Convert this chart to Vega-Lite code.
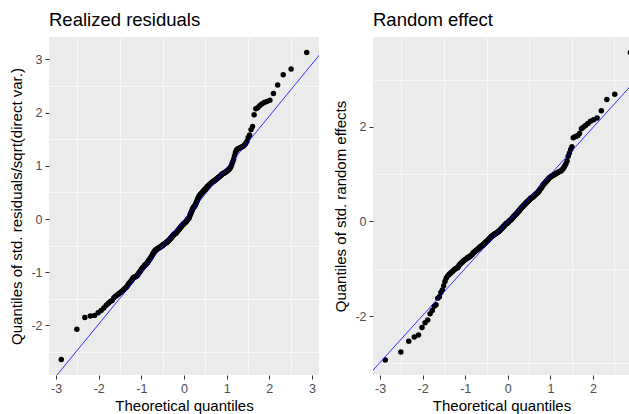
{
  "$schema": "https://vega.github.io/schema/vega-lite/v6.json",
  "padding": {"left": 9, "top": 10, "right": 0, "bottom": 0},
  "background": "white",
  "spacing": 14,
  "config": {
    "font": "Liberation Sans",
    "view": {"stroke": null, "fill": "#EBEBEB"},
    "axis": {"domain": false, "tickColor": "#333333", "tickSize": 4, "tickWidth": 1, "labelColor": "#4D4D4D", "labelFontSize": 12.5, "labelPadding": 3, "titleFontSize": 15, "titleFontWeight": "normal", "titleColor": "black", "gridColor": "white", "gridWidth": 1.2, "labelFont": "Liberation Sans", "titleFont": "Liberation Sans"},
    "title": {"anchor": "start", "frame": "group", "fontSize": 18.5, "fontWeight": "normal", "color": "black", "offset": 8, "font": "Liberation Sans"}
  },
  "datasets": {
    "res": [
{"x":-2.878,"y":-2.64},{"x":-2.512,"y":-2.07},{"x":-2.326,"y":-1.85},{"x":-2.197,"y":-1.82},{"x":-2.097,"y":-1.81},{"x":-2.014,"y":-1.76},{"x":-1.943,"y":-1.72},{"x":-1.881,"y":-1.67},{"x":-1.825,"y":-1.62},{"x":-1.774,"y":-1.58},
{"x":-1.728,"y":-1.55},{"x":-1.685,"y":-1.53},{"x":-1.645,"y":-1.48},{"x":-1.607,"y":-1.45},{"x":-1.572,"y":-1.43},{"x":-1.538,"y":-1.41},{"x":-1.506,"y":-1.39},{"x":-1.476,"y":-1.37},{"x":-1.447,"y":-1.35},{"x":-1.419,"y":-1.33},
{"x":-1.392,"y":-1.31},{"x":-1.366,"y":-1.29},{"x":-1.341,"y":-1.27},{"x":-1.317,"y":-1.24},{"x":-1.293,"y":-1.21},{"x":-1.270,"y":-1.19},{"x":-1.248,"y":-1.17},{"x":-1.227,"y":-1.15},{"x":-1.206,"y":-1.12},{"x":-1.185,"y":-1.10},
{"x":-1.165,"y":-1.09},{"x":-1.146,"y":-1.09},{"x":-1.126,"y":-1.08},{"x":-1.108,"y":-1.07},{"x":-1.089,"y":-1.05},{"x":-1.071,"y":-1.03},{"x":-1.054,"y":-1.01},{"x":-1.036,"y":-0.99},{"x":-1.019,"y":-0.97},{"x":-1.003,"y":-0.95},
{"x":-0.986,"y":-0.93},{"x":-0.970,"y":-0.92},{"x":-0.954,"y":-0.90},{"x":-0.938,"y":-0.89},{"x":-0.923,"y":-0.87},{"x":-0.908,"y":-0.86},{"x":-0.893,"y":-0.85},{"x":-0.878,"y":-0.84},{"x":-0.863,"y":-0.82},{"x":-0.849,"y":-0.81},
{"x":-0.834,"y":-0.79},{"x":-0.820,"y":-0.77},{"x":-0.806,"y":-0.76},{"x":-0.793,"y":-0.74},{"x":-0.779,"y":-0.72},{"x":-0.765,"y":-0.71},{"x":-0.752,"y":-0.69},{"x":-0.739,"y":-0.67},{"x":-0.726,"y":-0.65},{"x":-0.713,"y":-0.63},
{"x":-0.700,"y":-0.62},{"x":-0.687,"y":-0.60},{"x":-0.674,"y":-0.59},{"x":-0.662,"y":-0.58},{"x":-0.650,"y":-0.57},{"x":-0.637,"y":-0.57},{"x":-0.625,"y":-0.56},{"x":-0.613,"y":-0.56},{"x":-0.601,"y":-0.55},{"x":-0.589,"y":-0.54},
{"x":-0.577,"y":-0.54},{"x":-0.565,"y":-0.53},{"x":-0.553,"y":-0.52},{"x":-0.542,"y":-0.52},{"x":-0.530,"y":-0.51},{"x":-0.519,"y":-0.50},{"x":-0.507,"y":-0.50},{"x":-0.496,"y":-0.49},{"x":-0.485,"y":-0.48},{"x":-0.473,"y":-0.48},
{"x":-0.462,"y":-0.47},{"x":-0.451,"y":-0.46},{"x":-0.440,"y":-0.46},{"x":-0.429,"y":-0.45},{"x":-0.418,"y":-0.44},{"x":-0.407,"y":-0.44},{"x":-0.396,"y":-0.43},{"x":-0.385,"y":-0.42},{"x":-0.375,"y":-0.41},{"x":-0.364,"y":-0.41},
{"x":-0.353,"y":-0.40},{"x":-0.342,"y":-0.39},{"x":-0.332,"y":-0.38},{"x":-0.321,"y":-0.37},{"x":-0.311,"y":-0.36},{"x":-0.300,"y":-0.35},{"x":-0.290,"y":-0.34},{"x":-0.279,"y":-0.33},{"x":-0.269,"y":-0.32},{"x":-0.259,"y":-0.31},
{"x":-0.248,"y":-0.30},{"x":-0.238,"y":-0.29},{"x":-0.228,"y":-0.28},{"x":-0.217,"y":-0.28},{"x":-0.207,"y":-0.27},{"x":-0.197,"y":-0.27},{"x":-0.187,"y":-0.26},{"x":-0.176,"y":-0.25},{"x":-0.166,"y":-0.24},{"x":-0.156,"y":-0.23},
{"x":-0.146,"y":-0.22},{"x":-0.136,"y":-0.21},{"x":-0.126,"y":-0.20},{"x":-0.116,"y":-0.19},{"x":-0.106,"y":-0.18},{"x":-0.095,"y":-0.17},{"x":-0.085,"y":-0.16},{"x":-0.075,"y":-0.15},{"x":-0.065,"y":-0.14},{"x":-0.055,"y":-0.13},
{"x":-0.045,"y":-0.12},{"x":-0.035,"y":-0.11},{"x":-0.025,"y":-0.10},{"x":-0.015,"y":-0.10},{"x":-0.005,"y":-0.09},
{"x":0.005,"y":-0.08},{"x":0.015,"y":-0.07},{"x":0.025,"y":-0.07},{"x":0.035,"y":-0.06},{"x":0.045,"y":-0.05},{"x":0.055,"y":-0.04},{"x":0.065,"y":-0.03},{"x":0.075,"y":-0.02},{"x":0.085,"y":-0.01},{"x":0.095,"y":0.00},
{"x":0.106,"y":0.01},{"x":0.116,"y":0.02},{"x":0.126,"y":0.04},{"x":0.136,"y":0.06},{"x":0.146,"y":0.08},{"x":0.156,"y":0.10},{"x":0.166,"y":0.12},{"x":0.176,"y":0.14},{"x":0.187,"y":0.16},{"x":0.197,"y":0.18},
{"x":0.207,"y":0.20},{"x":0.217,"y":0.21},{"x":0.228,"y":0.22},{"x":0.238,"y":0.23},{"x":0.248,"y":0.24},{"x":0.259,"y":0.26},{"x":0.269,"y":0.27},{"x":0.279,"y":0.29},{"x":0.290,"y":0.31},{"x":0.300,"y":0.33},
{"x":0.311,"y":0.35},{"x":0.321,"y":0.37},{"x":0.332,"y":0.39},{"x":0.342,"y":0.41},{"x":0.353,"y":0.43},{"x":0.364,"y":0.44},{"x":0.375,"y":0.45},{"x":0.385,"y":0.46},{"x":0.396,"y":0.47},{"x":0.407,"y":0.48},
{"x":0.418,"y":0.49},{"x":0.429,"y":0.50},{"x":0.440,"y":0.51},{"x":0.451,"y":0.52},{"x":0.462,"y":0.53},{"x":0.473,"y":0.54},{"x":0.485,"y":0.55},{"x":0.496,"y":0.56},{"x":0.507,"y":0.57},{"x":0.519,"y":0.58},
{"x":0.530,"y":0.59},{"x":0.542,"y":0.60},{"x":0.553,"y":0.61},{"x":0.565,"y":0.62},{"x":0.577,"y":0.63},{"x":0.589,"y":0.64},{"x":0.601,"y":0.65},{"x":0.613,"y":0.66},{"x":0.625,"y":0.67},{"x":0.637,"y":0.67},
{"x":0.650,"y":0.68},{"x":0.662,"y":0.69},{"x":0.674,"y":0.70},{"x":0.687,"y":0.71},{"x":0.700,"y":0.71},{"x":0.713,"y":0.72},{"x":0.726,"y":0.73},{"x":0.739,"y":0.74},{"x":0.752,"y":0.75},{"x":0.765,"y":0.75},
{"x":0.779,"y":0.76},{"x":0.793,"y":0.77},{"x":0.806,"y":0.78},{"x":0.820,"y":0.79},{"x":0.834,"y":0.80},{"x":0.849,"y":0.81},{"x":0.863,"y":0.82},{"x":0.878,"y":0.83},{"x":0.893,"y":0.84},{"x":0.908,"y":0.85},
{"x":0.923,"y":0.86},{"x":0.938,"y":0.86},{"x":0.954,"y":0.87},{"x":0.970,"y":0.88},{"x":0.986,"y":0.89},{"x":1.003,"y":0.90},{"x":1.019,"y":0.91},{"x":1.036,"y":0.92},{"x":1.054,"y":0.93},{"x":1.071,"y":0.95},
{"x":1.089,"y":0.97},{"x":1.108,"y":1.00},{"x":1.126,"y":1.04},{"x":1.146,"y":1.08},{"x":1.165,"y":1.13},{"x":1.185,"y":1.19},{"x":1.206,"y":1.25},{"x":1.227,"y":1.29},{"x":1.248,"y":1.31},{"x":1.270,"y":1.32},
{"x":1.293,"y":1.33},{"x":1.317,"y":1.34},{"x":1.341,"y":1.35},{"x":1.366,"y":1.36},{"x":1.392,"y":1.37},{"x":1.419,"y":1.39},{"x":1.447,"y":1.42},{"x":1.476,"y":1.46},{"x":1.506,"y":1.53},{"x":1.538,"y":1.58},
{"x":1.572,"y":1.68},{"x":1.607,"y":1.74},{"x":1.645,"y":1.96},{"x":1.685,"y":2.07},{"x":1.728,"y":2.09},{"x":1.774,"y":2.13},{"x":1.825,"y":2.16},{"x":1.881,"y":2.19},{"x":1.943,"y":2.21},{"x":2.014,"y":2.23},
{"x":2.097,"y":2.36},{"x":2.197,"y":2.52},{"x":2.326,"y":2.71},{"x":2.512,"y":2.82},{"x":2.878,"y":3.13}
    ],
    "ran": [
{"x":-2.878,"y":-2.93},{"x":-2.512,"y":-2.76},{"x":-2.326,"y":-2.53},{"x":-2.197,"y":-2.44},{"x":-2.097,"y":-2.40},{"x":-2.014,"y":-2.24},{"x":-1.943,"y":-2.14},{"x":-1.881,"y":-2.08},{"x":-1.825,"y":-1.95},{"x":-1.774,"y":-1.88},
{"x":-1.728,"y":-1.79},{"x":-1.685,"y":-1.76},{"x":-1.645,"y":-1.62},{"x":-1.607,"y":-1.59},{"x":-1.572,"y":-1.50},{"x":-1.538,"y":-1.45},{"x":-1.506,"y":-1.36},{"x":-1.476,"y":-1.27},{"x":-1.447,"y":-1.20},{"x":-1.419,"y":-1.16},
{"x":-1.392,"y":-1.13},{"x":-1.366,"y":-1.11},{"x":-1.341,"y":-1.09},{"x":-1.317,"y":-1.07},{"x":-1.293,"y":-1.05},{"x":-1.270,"y":-1.03},{"x":-1.248,"y":-1.01},{"x":-1.227,"y":-1.00},{"x":-1.206,"y":-0.99},{"x":-1.185,"y":-0.98},
{"x":-1.165,"y":-0.96},{"x":-1.146,"y":-0.93},{"x":-1.126,"y":-0.91},{"x":-1.108,"y":-0.89},{"x":-1.089,"y":-0.87},{"x":-1.071,"y":-0.86},{"x":-1.054,"y":-0.84},{"x":-1.036,"y":-0.83},{"x":-1.019,"y":-0.82},{"x":-1.003,"y":-0.81},
{"x":-0.986,"y":-0.80},{"x":-0.970,"y":-0.79},{"x":-0.954,"y":-0.77},{"x":-0.938,"y":-0.76},{"x":-0.923,"y":-0.76},{"x":-0.908,"y":-0.75},{"x":-0.893,"y":-0.74},{"x":-0.878,"y":-0.73},{"x":-0.863,"y":-0.72},{"x":-0.849,"y":-0.71},
{"x":-0.834,"y":-0.69},{"x":-0.820,"y":-0.67},{"x":-0.806,"y":-0.66},{"x":-0.793,"y":-0.65},{"x":-0.779,"y":-0.64},{"x":-0.765,"y":-0.63},{"x":-0.752,"y":-0.62},{"x":-0.739,"y":-0.61},{"x":-0.726,"y":-0.60},{"x":-0.713,"y":-0.59},
{"x":-0.700,"y":-0.58},{"x":-0.687,"y":-0.57},{"x":-0.674,"y":-0.56},{"x":-0.662,"y":-0.55},{"x":-0.650,"y":-0.54},{"x":-0.637,"y":-0.53},{"x":-0.625,"y":-0.52},{"x":-0.613,"y":-0.52},{"x":-0.601,"y":-0.51},{"x":-0.589,"y":-0.50},
{"x":-0.577,"y":-0.49},{"x":-0.565,"y":-0.48},{"x":-0.553,"y":-0.47},{"x":-0.542,"y":-0.46},{"x":-0.530,"y":-0.45},{"x":-0.519,"y":-0.44},{"x":-0.507,"y":-0.43},{"x":-0.496,"y":-0.42},{"x":-0.485,"y":-0.41},{"x":-0.473,"y":-0.40},
{"x":-0.462,"y":-0.39},{"x":-0.451,"y":-0.38},{"x":-0.440,"y":-0.37},{"x":-0.429,"y":-0.36},{"x":-0.418,"y":-0.35},{"x":-0.407,"y":-0.34},{"x":-0.396,"y":-0.33},{"x":-0.385,"y":-0.32},{"x":-0.375,"y":-0.31},{"x":-0.364,"y":-0.30},
{"x":-0.353,"y":-0.30},{"x":-0.342,"y":-0.29},{"x":-0.332,"y":-0.28},{"x":-0.321,"y":-0.28},{"x":-0.311,"y":-0.27},{"x":-0.300,"y":-0.26},{"x":-0.290,"y":-0.26},{"x":-0.279,"y":-0.25},{"x":-0.269,"y":-0.25},{"x":-0.259,"y":-0.24},
{"x":-0.248,"y":-0.23},{"x":-0.238,"y":-0.23},{"x":-0.228,"y":-0.22},{"x":-0.217,"y":-0.21},{"x":-0.207,"y":-0.20},{"x":-0.197,"y":-0.20},{"x":-0.187,"y":-0.19},{"x":-0.176,"y":-0.18},{"x":-0.166,"y":-0.17},{"x":-0.156,"y":-0.16},
{"x":-0.146,"y":-0.15},{"x":-0.136,"y":-0.14},{"x":-0.126,"y":-0.13},{"x":-0.116,"y":-0.12},{"x":-0.106,"y":-0.11},{"x":-0.095,"y":-0.10},{"x":-0.085,"y":-0.09},{"x":-0.075,"y":-0.08},{"x":-0.065,"y":-0.07},{"x":-0.055,"y":-0.06},
{"x":-0.045,"y":-0.05},{"x":-0.035,"y":-0.04},{"x":-0.025,"y":-0.04},{"x":-0.015,"y":-0.03},{"x":-0.005,"y":-0.03},
{"x":0.005,"y":-0.02},{"x":0.015,"y":-0.01},{"x":0.025,"y":0.00},{"x":0.035,"y":0.01},{"x":0.045,"y":0.02},{"x":0.055,"y":0.02},{"x":0.065,"y":0.03},{"x":0.075,"y":0.04},{"x":0.085,"y":0.05},{"x":0.095,"y":0.06},
{"x":0.106,"y":0.07},{"x":0.116,"y":0.08},{"x":0.126,"y":0.09},{"x":0.136,"y":0.10},{"x":0.146,"y":0.11},{"x":0.156,"y":0.12},{"x":0.166,"y":0.13},{"x":0.176,"y":0.14},{"x":0.187,"y":0.15},{"x":0.197,"y":0.16},
{"x":0.207,"y":0.17},{"x":0.217,"y":0.18},{"x":0.228,"y":0.19},{"x":0.238,"y":0.20},{"x":0.248,"y":0.21},{"x":0.259,"y":0.22},{"x":0.269,"y":0.23},{"x":0.279,"y":0.24},{"x":0.290,"y":0.26},{"x":0.300,"y":0.27},
{"x":0.311,"y":0.28},{"x":0.321,"y":0.29},{"x":0.332,"y":0.30},{"x":0.342,"y":0.31},{"x":0.353,"y":0.32},{"x":0.364,"y":0.33},{"x":0.375,"y":0.34},{"x":0.385,"y":0.35},{"x":0.396,"y":0.36},{"x":0.407,"y":0.37},
{"x":0.418,"y":0.38},{"x":0.429,"y":0.39},{"x":0.440,"y":0.40},{"x":0.451,"y":0.41},{"x":0.462,"y":0.42},{"x":0.473,"y":0.43},{"x":0.485,"y":0.44},{"x":0.496,"y":0.45},{"x":0.507,"y":0.46},{"x":0.519,"y":0.47},
{"x":0.530,"y":0.48},{"x":0.542,"y":0.49},{"x":0.553,"y":0.50},{"x":0.565,"y":0.50},{"x":0.577,"y":0.51},{"x":0.589,"y":0.52},{"x":0.601,"y":0.53},{"x":0.613,"y":0.54},{"x":0.625,"y":0.55},{"x":0.637,"y":0.56},
{"x":0.650,"y":0.57},{"x":0.662,"y":0.58},{"x":0.674,"y":0.59},{"x":0.687,"y":0.60},{"x":0.700,"y":0.61},{"x":0.713,"y":0.62},{"x":0.726,"y":0.64},{"x":0.739,"y":0.65},{"x":0.752,"y":0.67},{"x":0.765,"y":0.69},
{"x":0.779,"y":0.70},{"x":0.793,"y":0.72},{"x":0.806,"y":0.74},{"x":0.820,"y":0.76},{"x":0.834,"y":0.78},{"x":0.849,"y":0.79},{"x":0.863,"y":0.81},{"x":0.878,"y":0.82},{"x":0.893,"y":0.84},{"x":0.908,"y":0.85},
{"x":0.923,"y":0.87},{"x":0.938,"y":0.88},{"x":0.954,"y":0.90},{"x":0.970,"y":0.92},{"x":0.986,"y":0.93},{"x":1.003,"y":0.94},{"x":1.019,"y":0.95},{"x":1.036,"y":0.96},{"x":1.054,"y":0.97},{"x":1.071,"y":0.98},
{"x":1.089,"y":0.99},{"x":1.108,"y":1.00},{"x":1.126,"y":1.01},{"x":1.146,"y":1.02},{"x":1.165,"y":1.03},{"x":1.185,"y":1.04},{"x":1.206,"y":1.05},{"x":1.227,"y":1.06},{"x":1.248,"y":1.07},{"x":1.270,"y":1.09},
{"x":1.293,"y":1.11},{"x":1.317,"y":1.14},{"x":1.341,"y":1.18},{"x":1.366,"y":1.22},{"x":1.392,"y":1.28},{"x":1.419,"y":1.38},{"x":1.447,"y":1.45},{"x":1.476,"y":1.52},{"x":1.506,"y":1.58},{"x":1.538,"y":1.77},
{"x":1.572,"y":1.79},{"x":1.607,"y":1.80},{"x":1.645,"y":1.82},{"x":1.685,"y":1.86},{"x":1.728,"y":1.96},{"x":1.774,"y":1.99},{"x":1.825,"y":2.03},{"x":1.881,"y":2.07},{"x":1.943,"y":2.12},{"x":2.014,"y":2.15},
{"x":2.097,"y":2.19},{"x":2.197,"y":2.34},{"x":2.326,"y":2.58},{"x":2.512,"y":2.69},{"x":2.878,"y":3.57}
    ],
    "resline": [{"x": -3.4, "y": -3.342}, {"x": 3.4, "y": 3.302}],
    "ranline": [{"x": -3.4, "y": -3.376}, {"x": 3.4, "y": 3.376}]
  },
  "hconcat": [
    {
      "title": {"text": "Realized residuals"},
      "width": 270,
      "height": 338,
      "resolve": {"axis": {"x": "independent", "y": "independent"}},
      "layer": [
        {
          "data": {"name": "res"},
          "mark": {"type": "circle", "size": 30, "color": "black", "opacity": 1, "clip": true},
          "encoding": {
            "x": {"field": "x", "type": "quantitative", "scale": {"domain": [-3.166, 3.166], "nice": false, "zero": false},
                  "axis": {"orient": "bottom", "values": [-2.5, -1.5, -0.5, 0.5, 1.5, 2.5], "labels": false, "ticks": false, "title": null, "gridWidth": 0.6}},
            "y": {"field": "y", "type": "quantitative", "scale": {"domain": [-2.93, 3.42], "nice": false, "zero": false},
                  "axis": {"orient": "left", "values": [-2.5, -1.5, -0.5, 0.5, 1.5, 2.5], "labels": false, "ticks": false, "title": null, "gridWidth": 0.6}}
          }
        },
        {
          "data": {"name": "resline"},
          "mark": {"type": "line", "color": "#0000FF", "strokeWidth": 0.8, "clip": true},
          "encoding": {
            "x": {"field": "x", "type": "quantitative",
                  "axis": {"orient": "bottom", "values": [-3, -2, -1, 0, 1, 2, 3], "title": "Theoretical quantiles", "titlePadding": 4, "labelExpr": "replace(datum.label, '\u2212', '-')"}},
            "y": {"field": "y", "type": "quantitative",
                  "axis": {"orient": "left", "values": [-2, -1, 0, 1, 2, 3], "title": "Quantiles of std. residuals/sqrt(direct var.)", "titlePadding": 6, "labelExpr": "replace(datum.label, '\u2212', '-')"}}
          }
        }
      ]
    },
    {
      "title": {"text": "Random effect"},
      "width": 257,
      "height": 338,
      "resolve": {"axis": {"x": "independent", "y": "independent"}},
      "layer": [
        {
          "data": {"name": "ran"},
          "mark": {"type": "circle", "size": 30, "color": "black", "opacity": 1, "clip": true},
          "encoding": {
            "x": {"field": "x", "type": "quantitative", "scale": {"domain": [-3.166, 2.87], "nice": false, "zero": false},
                  "axis": {"orient": "bottom", "values": [-2.5, -1.5, -0.5, 0.5, 1.5, 2.5], "labels": false, "ticks": false, "title": null, "gridWidth": 0.6}},
            "y": {"field": "y", "type": "quantitative", "scale": {"domain": [-3.245, 3.9], "nice": false, "zero": false},
                  "axis": {"orient": "left", "values": [-3, -1, 1, 3], "labels": false, "ticks": false, "title": null, "gridWidth": 0.6}}
          }
        },
        {
          "data": {"name": "ranline"},
          "mark": {"type": "line", "color": "#0000FF", "strokeWidth": 0.8, "clip": true},
          "encoding": {
            "x": {"field": "x", "type": "quantitative",
                  "axis": {"orient": "bottom", "values": [-3, -2, -1, 0, 1, 2], "title": "Theoretical quantiles", "titlePadding": 4, "labelExpr": "replace(datum.label, '\u2212', '-')"}},
            "y": {"field": "y", "type": "quantitative",
                  "axis": {"orient": "left", "values": [-2, 0, 2], "title": "Quantiles of std. random effects", "titlePadding": 6, "labelExpr": "replace(datum.label, '\u2212', '-')"}}
          }
        }
      ]
    }
  ]
}
